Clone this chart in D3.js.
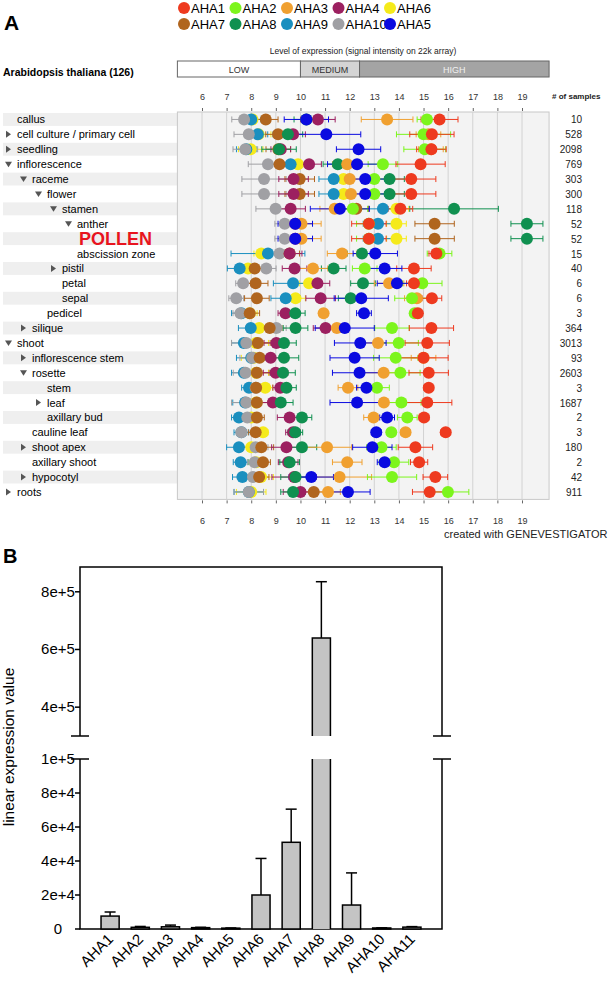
<!DOCTYPE html>
<html><head><meta charset="utf-8">
<script src="https://cdn.jsdelivr.net/npm/d3@7"></script>
<style>body{margin:0;background:#fff} svg{display:block;font-family:"Liberation Sans",Arial,sans-serif}</style>
</head><body><svg id="c" width="608" height="983"></svg>
<script>
// ---------------- Panel A data ----------------
const tissues = ["callus","cell culture / primary cell","seedling","inflorescence","raceme","flower","stamen","anther","POLLEN","abscission zone","pistil","petal","sepal","pedicel","silique","shoot","inflorescence stem","rosette","stem","leaf","axillary bud","cauline leaf","shoot apex","axillary shoot","hypocotyl","roots"];
const tissueLevels = [0,0,0,0,1,2,3,4,4,4,3,3,3,2,1,0,1,1,2,2,2,1,1,1,1,0];
const tissueToggles = ["","r","r","d","d","d","d","d","","","r","","","","r","d","r","d","","r","","","r","","r","r"];
const sampleCounts = ["10","528","2098","769","303","300","118","52","52","15","40","6","6","3","364","3013","93","2603","3","1687","2","3","180","2","42","911"];
const xTicksA = [6,7,8,9,10,11,12,13,14,15,16,17,18,19];
const seriesNames = ["AHA1","AHA2","AHA3","AHA4","AHA5","AHA6","AHA7","AHA8","AHA9","AHA10"];
const seriesColors = ["#ee3a1f","#7cf51c","#f0a030","#9c2060","#0a0ae0","#f5ea1a","#b0651e","#109050","#1a8fbf","#a0a0a4"];
const legendOrder = ["AHA1","AHA2","AHA3","AHA4","AHA6","AHA7","AHA8","AHA9","AHA10","AHA5"];

const aha1 = [15.65,15.34,15.32,14.88,14.5,14.5,14.06,12.78,12.78,15.52,14.61,14.61,15.34,14.77,15.32,15.15,15.0,15.21,15.21,15.15,15.02,15.9,14.67,14.82,15.48,15.25];
const aha1Err = [0.75,0.9,0.6,1.0,1.0,1.0,0.5,0.7,0.7,0.3,0.7,0.3,0.4,0.1,0.9,0.9,1.0,0.8,0.2,1.0,0.2,0.2,0.7,0.35,0.5,0.7];
const aha2 = [15.14,15.0,15.05,13.35,13.0,13.0,12.13,12.78,12.78,15.65,12.61,14.95,14.53,14.64,13.72,13.99,13.87,14.06,13.11,14.1,14.34,13.69,13.29,13.8,13.72,15.99];
const aha2Err = [0.4,1.1,0.85,0.6,0.5,0.5,0.6,0.5,0.5,0.5,0.5,0.8,0.7,0.1,0.7,0.8,0.9,0.8,0.5,0.8,0.4,0.1,0.6,0.6,1.0,0.85];
const aha3 = [13.52,15.2,15.3,11.9,12.0,12.05,11.39,10.04,10.04,11.69,10.51,13.6,14.73,10.94,11.48,13.15,15.0,13.38,11.93,13.39,12.97,14.27,11.08,11.9,11.59,11.12];
const aha3Err = [1.05,0.5,0.5,0.6,0.6,0.6,0.6,0.8,0.8,0.6,0.6,0.6,0.5,0.1,0.5,0.8,0.5,0.8,0.4,0.9,0.4,0.2,1.0,0.6,1.3,0.5];
const aha4 = [10.71,9.7,9.2,10.35,9.72,9.72,9.6,9.79,9.79,9.56,9.76,10.69,10.82,9.39,11.02,9.02,8.79,8.99,9.18,8.88,9.56,9.7,9.43,9.5,9.74,10.0];
const aha4Err = [0.7,0.5,0.4,0.5,0.6,0.6,0.6,0.4,0.4,0.5,0.5,0.5,0.6,0.3,0.5,0.5,0.5,0.5,0.3,0.5,0.5,0.3,0.6,0.4,0.9,0.7];
const aha5 = [10.24,11.05,12.36,12.3,12.63,12.63,11.6,9.79,9.79,13.04,13.42,13.92,12.47,12.58,11.8,12.43,12.2,12.4,12.68,12.3,13.52,13.08,12.92,13.42,10.44,11.93];
const aha5Err = [0.9,1.4,0.9,1.2,0.8,0.8,1.2,0.7,0.7,0.9,0.7,0.8,1.1,0.3,1.2,1.05,1.0,1.1,0.4,1.1,0.3,0.2,0.8,0.3,0.9,0.9];
const aha6 = [8.05,8.3,7.98,9.9,11.75,11.75,13.9,13.9,13.9,8.41,7.87,10.35,9.8,7.94,8.32,8.2,8.1,8.2,8.57,8.2,8.0,8.48,8.0,8.2,8.4,8.0];
const aha6Err = [0.5,0.5,0.5,0.4,0.4,0.4,0.5,0.4,0.4,0.3,0.4,0.4,0.4,0.3,0.5,0.5,0.5,0.5,0.3,0.5,0.3,0.2,0.5,0.3,0.5,0.6];
const aha7 = [8.59,9.09,9.1,9.15,9.97,9.97,12.27,15.45,15.45,9.56,8.14,8.18,8.23,7.94,8.75,8.27,8.34,8.23,8.2,8.23,8.23,8.18,8.41,8.48,8.32,10.54];
const aha7Err = [0.5,0.5,0.5,0.5,0.6,0.6,0.5,0.8,0.8,0.4,0.5,0.5,0.5,0.4,0.5,0.5,0.5,0.5,0.3,0.5,0.3,0.3,0.5,0.3,0.4,0.6];
const aha8 = [10.24,9.49,9.13,11.52,13.62,13.62,16.24,19.2,19.2,12.5,11.35,12.54,12.04,9.79,9.8,9.33,9.33,9.29,9.43,9.2,10.06,9.79,10.06,9.56,9.8,9.7];
const aha8Err = [0.5,0.6,0.7,0.6,0.6,0.6,1.8,0.65,0.65,0.6,0.5,0.5,0.5,0.4,0.5,0.5,0.6,0.5,0.4,0.5,0.4,0.3,0.6,0.4,0.6,0.5];
const aha9 = [8.0,8.27,7.8,9.6,11.35,11.35,13.35,13.15,13.15,8.68,7.53,9.7,9.4,7.6,7.98,7.7,8.0,7.7,7.91,7.75,7.5,7.6,7.5,7.57,7.64,7.9];
const aha9Err = [0.4,0.4,0.4,0.6,0.6,0.6,0.6,0.6,0.6,1.5,0.5,0.8,0.6,0.4,0.5,0.5,0.6,0.5,0.3,0.5,0.3,0.3,0.5,0.3,0.4,0.6];
const aha10 = [7.71,7.9,7.76,8.68,8.52,8.52,8.99,9.36,9.36,9.15,8.61,7.67,7.39,7.56,9.02,7.8,8.04,7.77,8.18,7.8,7.84,7.6,8.18,8.14,8.07,7.9];
const aha10Err = [0.5,0.6,0.5,0.8,0.9,0.9,0.8,0.4,0.4,0.4,0.4,0.3,0.3,0.3,0.4,0.6,0.5,0.5,0.3,0.6,0.3,0.2,0.5,0.3,0.4,0.6];

// ---------------- Panel B data ----------------
const genesB = ["AHA1","AHA2","AHA3","AHA4","AHA5","AHA6","AHA7","AHA8","AHA9","AHA10","AHA11"];
const linearValues = [7600,1000,1300,800,500,20000,51000,640000,14100,600,1100];
const linearErrors = [2400,500,1000,200,100,21500,19500,195000,18900,100,300];
const lowerTicks = [0,20000,40000,60000,80000,100000];
const lowerTickLabels = ["0","2e+4","4e+4","6e+4","8e+4","1e+5"];
const upperTicks = [400000,600000,800000];
const upperTickLabels = ["4e+5","6e+5","8e+5"];

// ---------------- Drawing ----------------
const svg = d3.select("#c");
const means = [aha1,aha2,aha3,aha4,aha5,aha6,aha7,aha8,aha9,aha10];
const errs = [aha1Err,aha2Err,aha3Err,aha4Err,aha5Err,aha6Err,aha7Err,aha8Err,aha9Err,aha10Err];
const color = d3.scaleOrdinal().domain(seriesNames).range(seriesColors);

svg.append("text").attr("x",4).attr("y",30).attr("font-size",21).attr("font-weight","bold").text("A");

// legend
const legX = d3.scalePoint().domain(d3.range(5)).range([184,390]);
legendOrder.forEach((n,i)=>{
  const g = svg.append("g").attr("transform",`translate(${legX(i%5)},${i<5?8:24})`);
  g.append("circle").attr("r",6).attr("fill",color(n));
  g.append("text").attr("x",7).attr("y",5).attr("font-size",13).text(n);
});

const x = d3.scaleLinear().domain([6,19]).range([202,522]);
const rowH = 14.9, top0 = 112;
const y = d3.scaleBand().domain(d3.range(tissues.length)).range([top0, top0+rowH*tissues.length]);
const yc = i => y(i)+y.bandwidth()/2;
const plotL = x(5), plotR = x(20.1), plotB = top0+rowH*tissues.length;

svg.append("text").attr("x",363).attr("y",54).attr("text-anchor","middle").attr("font-size",8.5).attr("fill","#222")
  .text("Level of expression (signal intensity on 22k array)");
const lvl = [{n:"LOW",a:5,b:10,f:"#ffffff",t:"#333"},{n:"MEDIUM",a:10,b:12.4,f:"#d4d4d4",t:"#333"},{n:"HIGH",a:12.4,b:20.1,f:"#a4a4a4",t:"#f0f0f0"}];
lvl.forEach(d=>{
  svg.append("rect").attr("x",x(d.a)).attr("y",61).attr("width",x(d.b)-x(d.a)).attr("height",16).attr("fill",d.f).attr("stroke","#666");
  svg.append("text").attr("x",(x(d.a)+x(d.b))/2).attr("y",72.5).attr("text-anchor","middle").attr("font-size",9).attr("fill",d.t).text(d.n);
});
svg.append("text").attr("x",3).attr("y",76).attr("font-size",10.5).attr("font-weight","bold").text("Arabidopsis thaliana (126)");

// label stripes
tissues.forEach((t,i)=>{
  if(i%2===0) svg.append("rect").attr("x",3).attr("y",y(i)+1).attr("width",plotL-3).attr("height",rowH-2).attr("fill","#efefef");
});
// plot area
svg.append("rect").attr("x",plotL).attr("y",top0).attr("width",plotR-plotL).attr("height",plotB-top0).attr("fill","#f3f3f3").attr("stroke","#c8c8c8");
svg.append("g").selectAll("line").data(xTicksA).join("line")
  .attr("x1",d=>x(d)).attr("x2",d=>x(d)).attr("y1",top0).attr("y2",plotB).attr("stroke","#d2d2d2");
// ticks top / bottom
const axTop = d3.axisTop(x).tickValues(xTicksA).tickSize(3).tickPadding(8).tickFormat(d3.format("d"));
const gTop = svg.append("g").attr("transform",`translate(0,${top0-1})`).call(axTop);
const axBot = d3.axisBottom(x).tickValues(xTicksA).tickSize(3).tickPadding(14).tickFormat(d3.format("d"));
const gBot = svg.append("g").attr("transform",`translate(0,${plotB+1})`).call(axBot);
[gTop,gBot].forEach(g=>{g.select(".domain").remove();g.selectAll("line").attr("stroke","#666");g.selectAll("text").attr("font-size",9).attr("fill","#333").attr("font-family","Liberation Sans, Arial, sans-serif");});
svg.append("text").attr("x",552).attr("y",99).attr("font-size",8).attr("font-weight","bold").attr("fill","#222").text("# of samples");
svg.append("text").attr("x",444).attr("y",538).attr("font-size",11).attr("fill","#222").text("created with GENEVESTIGATOR");

// labels
tissues.forEach((t,i)=>{
  const tx = 17 + 15*tissueLevels[i];
  const cy = yc(i);
  if(t==="POLLEN"){
    svg.append("text").attr("x",79).attr("y",cy+6.5).attr("font-size",18).attr("font-weight","bold").attr("fill","#e8141e").text(t);
  } else {
    const txt = svg.append("text").attr("x",tx).attr("y",cy+4).attr("font-size",11).text(t);
    if(i%2===0){
      const bx = tissueToggles[i] ? tx-14 : tx-3;
      const w = txt.node().getComputedTextLength();
      svg.insert("rect","text").attr("x",bx).attr("y",y(i)+1).attr("width",tx+w+6-bx).attr("height",rowH-2).attr("fill","#fff");
    }
    const ax = tx-11;
    if(tissueToggles[i]==="r") svg.append("path").attr("d",`M${ax},${cy-3.5}L${ax+5},${cy}L${ax},${cy+3.5}Z`).attr("fill","#555");
    if(tissueToggles[i]==="d") svg.append("path").attr("d",`M${ax-1},${cy-2.5}L${ax+6},${cy-2.5}L${ax+2.5},${cy+3}Z`).attr("fill","#555");
  }
  svg.append("text").attr("x",582).attr("y",cy+4).attr("text-anchor","end").attr("font-size",10).attr("fill","#222").text(sampleCounts[i]);
});

// series (drawing order: yellow, teal, gray, brown, purple, green, orange, lime, red, blue)
const drawOrder = [5,8,9,6,3,7,2,1,0,4];
const gErr = svg.append("g"), gPts = svg.append("g");
drawOrder.forEach(s=>{
  const c = seriesColors[s];
  means[s].forEach((m,i)=>{
    const lo = x(m-errs[s][i]), hi = x(m+errs[s][i]), cy = yc(i);
    gErr.append("path").attr("d",`M${lo},${cy}H${hi}M${lo},${cy-3}V${cy+3}M${hi},${cy-3}V${cy+3}`).attr("stroke",c).attr("stroke-width",1).attr("fill","none");
  });
});
drawOrder.forEach(s=>{
  gPts.append("g").selectAll("circle").data(means[s]).join("circle")
    .attr("cx",d=>x(d)).attr("cy",(d,i)=>yc(i)).attr("r",6).attr("fill",seriesColors[s]);
});

// ---------------- Panel B ----------------
svg.append("text").attr("x",3).attr("y",563).attr("font-size",20).attr("font-weight","bold").text("B");
const bL = 80, bR = 442;
const yLow = d3.scaleLinear().domain([0,100000]).range([929,759]);
const yUp = d3.scaleLinear().domain([300000,886000]).range([736,567]);
const xb = d3.scaleBand().domain(genesB).range([95,427]).paddingInner(0.4).paddingOuter(0.2);
const gB = svg.append("g");
gB.append("path").attr("d",`M${bL},736V567H${bR}V736`).attr("fill","none").attr("stroke","#000").attr("stroke-width",1.5);
gB.append("path").attr("d",`M${bL},759V929H${bR}V759`).attr("fill","none").attr("stroke","#000").attr("stroke-width",1.5);
[736,759].forEach(yy=>{
  gB.append("line").attr("x1",bL-9).attr("x2",bL+9).attr("y1",yy).attr("y2",yy).attr("stroke","#000").attr("stroke-width",1.5);
  gB.append("line").attr("x1",bR-9).attr("x2",bR+9).attr("y1",yy).attr("y2",yy).attr("stroke","#000").attr("stroke-width",1.5);
});
const labX = 58;
lowerTicks.forEach((t,i)=>{
  if(t!==100000) gB.append("line").attr("x1",bL-5).attr("x2",bL).attr("y1",yLow(t)).attr("y2",yLow(t)).attr("stroke","#000").attr("stroke-width",1.5);
  gB.append("text").attr("x",labX).attr("y",yLow(t)+5).attr("text-anchor","middle").attr("font-size",15).text(lowerTickLabels[i]);
});
upperTicks.forEach((t,i)=>{
  gB.append("line").attr("x1",bL-5).attr("x2",bL).attr("y1",yUp(t)).attr("y2",yUp(t)).attr("stroke","#000").attr("stroke-width",1.5);
  gB.append("text").attr("x",labX).attr("y",yUp(t)+5).attr("text-anchor","middle").attr("font-size",15).text(upperTickLabels[i]);
});
svg.append("text").attr("transform","translate(14,747) rotate(-90)").attr("text-anchor","middle").attr("font-size",15.5).text("linear expression value");

genesB.forEach((g,i)=>{
  const v = linearValues[i], e = linearErrors[i];
  const bx = xb(g), bw = xb.bandwidth(), cx = bx+bw/2;
  const top = v+e;
  const yTopErr = top>100000 ? yUp(top) : yLow(top);
  const yBar = v>100000 ? yUp(v) : yLow(v);
  gB.append("line").attr("x1",cx).attr("x2",cx).attr("y1",yBar).attr("y2",yTopErr).attr("stroke","#000").attr("stroke-width",1.5);
  gB.append("line").attr("x1",cx-5.5).attr("x2",cx+5.5).attr("y1",yTopErr).attr("y2",yTopErr).attr("stroke","#000").attr("stroke-width",1.5);
  if(v>100000){
    gB.append("rect").attr("x",bx).attr("y",yLow(100000)).attr("width",bw).attr("height",929-yLow(100000)).attr("fill","#c4c4c4");
    gB.append("path").attr("d",`M${bx},929V${yLow(100000)}M${bx+bw},${yLow(100000)}V929`).attr("stroke","#000").attr("stroke-width",1.5);
    gB.append("rect").attr("x",bx).attr("y",yUp(v)).attr("width",bw).attr("height",736-yUp(v)).attr("fill","#c4c4c4");
    gB.append("path").attr("d",`M${bx},736V${yUp(v)}H${bx+bw}V736`).attr("fill","none").attr("stroke","#000").attr("stroke-width",1.5);
  } else {
    gB.append("rect").attr("x",bx).attr("y",yLow(v)).attr("width",bw).attr("height",929-yLow(v)).attr("fill","#c4c4c4").attr("stroke","#000").attr("stroke-width",1.5);
  }
  gB.append("text").attr("transform",`translate(${cx+4},${940}) rotate(-45)`).attr("text-anchor","end").attr("font-size",15).text(g);
});
</script></body></html>
